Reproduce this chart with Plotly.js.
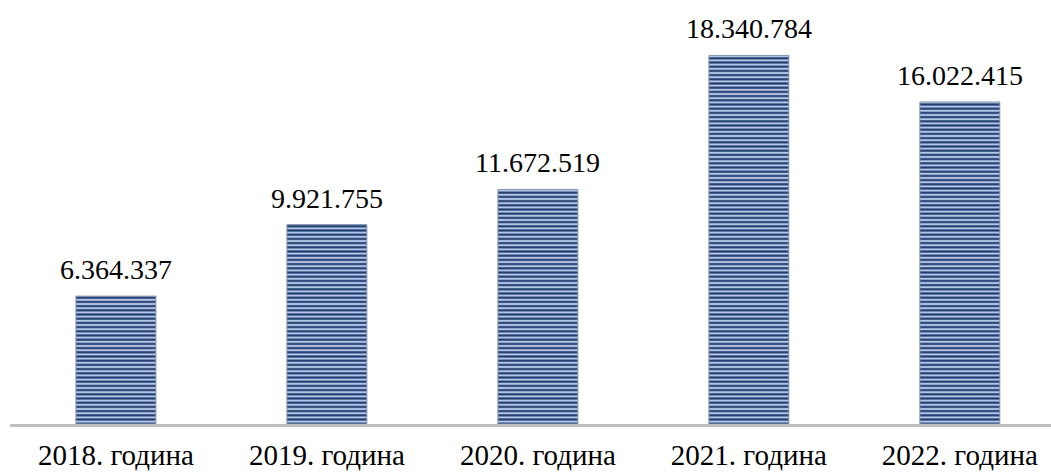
<!DOCTYPE html>
<html>
<head>
<meta charset="utf-8">
<script src="https://cdn.plot.ly/plotly-3.0.1.min.js"></script>
<style>html,body{margin:0;padding:0;background:#fff;}#chart{width:1051px;height:472px;}</style>
</head>
<body>
<div id="chart"></div>
<script>
const categories = ["2018. година", "2019. година", "2020. година", "2021. година", "2022. година"];
const values = [6364337, 9921755, 11672519, 18340784, 16022415];
const valueLabels = ["6.364.337", "9.921.755", "11.672.519", "18.340.784", "16.022.415"];

const serif = "Liberation Serif, Times New Roman, serif";

const trace = {
  type: "bar",
  x: categories,
  y: values,
  width: 0.379,
  marker: {
    color: "#b4c6e7",
    line: {color: "#8497b0", width: 1},
    pattern: {shape: "-", fgcolor: "#1f3c70", bgcolor: "#b4c6e7", size: 4.2, solidity: 0.5}
  },
  hoverinfo: "skip"
};

const annotations = categories.map((c, i) => ({
  x: c, y: values[i], xref: "x", yref: "y",
  text: valueLabels[i], showarrow: false,
  yanchor: "bottom", yshift: 9,
  font: {family: serif, size: 28, color: "#000"}
}));

const layout = {
  width: 1051,
  height: 472,
  margin: {l: 10, r: 0, t: 10, b: 48},
  paper_bgcolor: "#fff",
  plot_bgcolor: "#fff",
  showlegend: false,
  annotations: annotations,
  xaxis: {
    type: "category",
    range: [-0.502, 4.432],
    showline: true,
    linecolor: "#bfbfbf",
    linewidth: 3,
    ticks: "",
    showgrid: false,
    tickfont: {family: serif, size: 29, color: "#000"},
    ticklabelstandoff: 3
  },
  yaxis: {
    range: [0, 20600000],
    visible: false,
    showgrid: false,
    zeroline: false
  }
};

Plotly.newPlot("chart", [trace], layout, {displayModeBar: false, staticPlot: true});
</script>
</body>
</html>
